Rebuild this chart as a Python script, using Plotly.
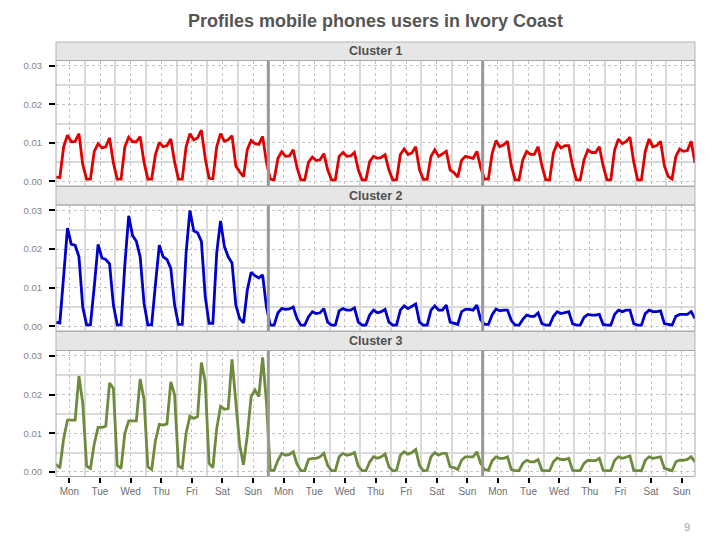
import plotly.graph_objects as go

# ---------------- data (8 samples per day, 3-hour steps) ----------------
days = ["Mon", "Tue", "Wed", "Thu", "Fri", "Sat", "Sun"]
samples_per_day = 8
n_weeks = 3

c1_w1 = [0.0011, 0.0010, 0.0090, 0.0120, 0.0103, 0.0104, 0.0124, 0.0043,
         0.0006, 0.0006, 0.0078, 0.0098, 0.0087, 0.0090, 0.0113, 0.0048,
         0.0006, 0.0006, 0.0090, 0.0115, 0.0103, 0.0103, 0.0116, 0.0050,
         0.0006, 0.0006, 0.0070, 0.0101, 0.0090, 0.0093, 0.0110, 0.0050,
         0.0006, 0.0006, 0.0090, 0.0124, 0.0108, 0.0113, 0.0133, 0.0060,
         0.0008, 0.0007, 0.0090, 0.0124, 0.0104, 0.0108, 0.0119, 0.0040,
         0.0025, 0.0012, 0.0083, 0.0106, 0.0098, 0.0096, 0.0117, 0.0050]
c1_w2 = [0.0006, 0.0004, 0.0060, 0.0077, 0.0065, 0.0066, 0.0082, 0.0035,
         0.0004, 0.0004, 0.0050, 0.0063, 0.0054, 0.0056, 0.0072, 0.0030,
         0.0004, 0.0004, 0.0065, 0.0075, 0.0065, 0.0066, 0.0075, 0.0030,
         0.0004, 0.0004, 0.0052, 0.0065, 0.0060, 0.0062, 0.0069, 0.0030,
         0.0004, 0.0004, 0.0070, 0.0084, 0.0070, 0.0074, 0.0090, 0.0030,
         0.0005, 0.0005, 0.0065, 0.0082, 0.0065, 0.0071, 0.0078, 0.0030,
         0.0023, 0.0011, 0.0055, 0.0065, 0.0063, 0.0060, 0.0078, 0.0035]
c1_w3 = [0.0006, 0.0006, 0.0073, 0.0106, 0.0090, 0.0095, 0.0104, 0.0040,
         0.0004, 0.0004, 0.0056, 0.0078, 0.0070, 0.0070, 0.0090, 0.0040,
         0.0004, 0.0004, 0.0074, 0.0099, 0.0087, 0.0093, 0.0093, 0.0040,
         0.0004, 0.0004, 0.0056, 0.0082, 0.0075, 0.0075, 0.0090, 0.0040,
         0.0004, 0.0004, 0.0082, 0.0110, 0.0098, 0.0104, 0.0115, 0.0050,
         0.0004, 0.0004, 0.0078, 0.0110, 0.0090, 0.0093, 0.0104, 0.0040,
         0.0013, 0.0006, 0.0065, 0.0084, 0.0078, 0.0080, 0.0104, 0.0048]

c2_w1 = [0.0010, 0.0009, 0.0130, 0.0254, 0.0212, 0.0210, 0.0180, 0.0049,
         0.0004, 0.0004, 0.0103, 0.0212, 0.0177, 0.0173, 0.0162, 0.0055,
         0.0004, 0.0004, 0.0160, 0.0286, 0.0235, 0.0220, 0.0180, 0.0060,
         0.0004, 0.0004, 0.0110, 0.0210, 0.0180, 0.0173, 0.0150, 0.0055,
         0.0005, 0.0005, 0.0190, 0.0300, 0.0247, 0.0242, 0.0220, 0.0077,
         0.0008, 0.0008, 0.0190, 0.0273, 0.0207, 0.0180, 0.0164, 0.0055,
         0.0020, 0.0009, 0.0094, 0.0140, 0.0131, 0.0125, 0.0133, 0.0050]
c2_w2 = [0.0003, 0.0003, 0.0035, 0.0046, 0.0044, 0.0045, 0.0050, 0.0020,
         0.0003, 0.0003, 0.0025, 0.0038, 0.0033, 0.0035, 0.0046, 0.0011,
         0.0003, 0.0003, 0.0040, 0.0046, 0.0042, 0.0042, 0.0048, 0.0011,
         0.0003, 0.0003, 0.0030, 0.0042, 0.0035, 0.0038, 0.0044, 0.0011,
         0.0003, 0.0003, 0.0042, 0.0053, 0.0046, 0.0051, 0.0058, 0.0011,
         0.0003, 0.0003, 0.0042, 0.0053, 0.0042, 0.0042, 0.0055, 0.0011,
         0.0007, 0.0005, 0.0038, 0.0044, 0.0044, 0.0042, 0.0055, 0.0017]
c2_w3 = [0.0005, 0.0005, 0.0030, 0.0045, 0.0040, 0.0042, 0.0042, 0.0015,
         0.0003, 0.0003, 0.0018, 0.0029, 0.0026, 0.0026, 0.0035, 0.0007,
         0.0003, 0.0003, 0.0026, 0.0038, 0.0033, 0.0035, 0.0038, 0.0007,
         0.0003, 0.0003, 0.0023, 0.0031, 0.0029, 0.0029, 0.0031, 0.0005,
         0.0003, 0.0003, 0.0031, 0.0042, 0.0038, 0.0042, 0.0042, 0.0007,
         0.0003, 0.0003, 0.0033, 0.0042, 0.0038, 0.0038, 0.0040, 0.0007,
         0.0005, 0.0003, 0.0026, 0.0031, 0.0031, 0.0031, 0.0038, 0.0020]

c3_w1 = [0.0020, 0.0010, 0.0086, 0.0134, 0.0134, 0.0134, 0.0248, 0.0177,
         0.0015, 0.0009, 0.0073, 0.0115, 0.0115, 0.0118, 0.0230, 0.0216,
         0.0017, 0.0009, 0.0100, 0.0132, 0.0132, 0.0132, 0.0240, 0.0188,
         0.0013, 0.0006, 0.0082, 0.0123, 0.0121, 0.0124, 0.0233, 0.0199,
         0.0015, 0.0010, 0.0100, 0.0144, 0.0138, 0.0143, 0.0283, 0.0233,
         0.0022, 0.0011, 0.0112, 0.0169, 0.0162, 0.0164, 0.0291, 0.0190,
         0.0070, 0.0018, 0.0095, 0.0195, 0.0212, 0.0195, 0.0296, 0.0180]
c3_w2 = [0.0004, 0.0004, 0.0030, 0.0048, 0.0043, 0.0045, 0.0052, 0.0020,
         0.0003, 0.0003, 0.0032, 0.0035, 0.0035, 0.0039, 0.0048, 0.0017,
         0.0003, 0.0003, 0.0039, 0.0048, 0.0043, 0.0045, 0.0050, 0.0015,
         0.0003, 0.0003, 0.0026, 0.0039, 0.0035, 0.0039, 0.0046, 0.0013,
         0.0003, 0.0004, 0.0043, 0.0052, 0.0046, 0.0050, 0.0058, 0.0017,
         0.0003, 0.0004, 0.0039, 0.0050, 0.0043, 0.0048, 0.0048, 0.0013,
         0.0011, 0.0006, 0.0030, 0.0039, 0.0039, 0.0039, 0.0052, 0.0022]
c3_w3 = [0.0006, 0.0004, 0.0029, 0.0039, 0.0035, 0.0035, 0.0039, 0.0006,
         0.0003, 0.0003, 0.0022, 0.0030, 0.0026, 0.0026, 0.0032, 0.0004,
         0.0003, 0.0003, 0.0026, 0.0036, 0.0032, 0.0032, 0.0035, 0.0004,
         0.0003, 0.0003, 0.0022, 0.0030, 0.0029, 0.0029, 0.0035, 0.0004,
         0.0003, 0.0003, 0.0030, 0.0039, 0.0035, 0.0039, 0.0041, 0.0004,
         0.0003, 0.0003, 0.0030, 0.0039, 0.0035, 0.0037, 0.0039, 0.0009,
         0.0006, 0.0003, 0.0026, 0.0030, 0.0030, 0.0032, 0.0039, 0.0026]

cluster_names = ["Cluster 1", "Cluster 2", "Cluster 3"]
cluster_colors = ["#E00000", "#0000CD", "#6E8B3D"]
cluster_series = [c1_w1 + c1_w2 + c1_w3,
                  c2_w1 + c2_w2 + c2_w3,
                  c3_w1 + c3_w2 + c3_w3]
y_ticks = [0.00, 0.01, 0.02, 0.03]
y_tick_labels = ["0.00", "0.01", "0.02", "0.03"]

# ---------------- derived axis positions ----------------
n_pts = samples_per_day * len(days) * n_weeks
x_vals = list(range(n_pts))
day_centers = [d * samples_per_day + (samples_per_day - 1) / 2 for d in range(len(days) * n_weeks)]
day_labels = days * n_weeks
day_bounds = [d * samples_per_day - 0.5 for d in range(1, len(days) * n_weeks)]
week_bounds = [w * samples_per_day * len(days) - 0.5 for w in range(1, n_weeks)]

W, H = 720, 540
x_dom = [56 / W, 695 / W]
panels_px = [(60.5, 186.0), (205.0, 331.0), (350.5, 476.5)]
strips_px = [(42.0, 60.5), (186.5, 205.0), (331.5, 350.5)]

FONT = "Liberation Sans, Arial, sans-serif"

fig = go.Figure()
layout = dict(
    width=W, height=H,
    margin=dict(l=0, r=0, t=0, b=0),
    paper_bgcolor="white", plot_bgcolor="white",
    showlegend=False,
    font=dict(family=FONT),
    shapes=[], annotations=[],
)

for i, (name, color, ys) in enumerate(zip(cluster_names, cluster_colors, cluster_series)):
    k = "" if i == 0 else str(i + 1)
    fig.add_trace(go.Scatter(x=x_vals, y=ys, mode="lines", xaxis="x" + k, yaxis="y" + k,
                             line=dict(color=color, width=2.8), hoverinfo="skip"))
    top, bot = panels_px[i]
    y_dom = [1 - bot / H, 1 - top / H]
    last = i == 2
    layout["xaxis" + k] = dict(
        domain=x_dom, anchor="y" + k, range=[0, n_pts - 1],
        tickmode="array", tickvals=day_centers, ticktext=day_labels,
        showticklabels=last, ticks="outside" if last else "",
        ticklen=5, tickwidth=2, tickcolor="black",
        tickfont=dict(size=10, color="#6E6E6E"),
        showgrid=True, gridcolor="#C4C4C4", griddash="dot", gridwidth=1,
        minor=dict(tickmode="array", tickvals=day_bounds, showgrid=True,
                   gridcolor="#DADADA", gridwidth=2, griddash="solid", ticks=""),
        zeroline=False, showline=False, fixedrange=True,
        **({} if i == 0 else {"matches": "x"}),
    )
    layout["yaxis" + k] = dict(
        domain=y_dom, anchor="x" + k, range=[-0.0012, 0.0314],
        tickmode="array", tickvals=y_ticks, ticktext=y_tick_labels,
        ticks="outside", ticklen=6, tickwidth=2, tickcolor="black",
        ticklabelstandoff=5,
        tickfont=dict(size=9.5, color="#858585"),
        showgrid=True, gridcolor="#C4C4C4", griddash="dot", gridwidth=1,
        minor=dict(tickmode="linear", tick0=0.005, dtick=0.01, showgrid=True,
                   gridcolor="#DADADA", gridwidth=2, griddash="solid", ticks=""),
        zeroline=False, showline=False, fixedrange=True,
    )
    # week separators
    for wb in week_bounds:
        layout["shapes"].append(dict(type="line", xref="x" + k, yref="y" + k + " domain",
                                     x0=wb, x1=wb, y0=0, y1=1,
                                     line=dict(color="#999999", width=3), layer="above"))
    # panel border
    layout["shapes"].append(dict(type="rect", xref="paper", yref="paper",
                                 x0=x_dom[0], x1=x_dom[1], y0=y_dom[0], y1=y_dom[1],
                                 line=dict(color="#A8A8A8", width=1), layer="above"))
    # strip
    s_top, s_bot = strips_px[i]
    layout["shapes"].append(dict(type="rect", xref="paper", yref="paper",
                                 x0=x_dom[0], x1=x_dom[1], y0=1 - s_bot / H, y1=1 - s_top / H,
                                 fillcolor="#E6E6E6", line=dict(color="#B4B4B4", width=1),
                                 layer="below"))
    layout["annotations"].append(dict(text=name, xref="paper", yref="paper",
                                      x=(x_dom[0] + x_dom[1]) / 2, y=1 - (s_top + s_bot) / 2 / H,
                                      xanchor="center", yanchor="middle", showarrow=False,
                                      font=dict(size=12.5, color="#505050", weight="bold")))

layout["annotations"].append(dict(text="Profiles mobile phones users in Ivory Coast",
                                  xref="paper", yref="paper", x=(x_dom[0] + x_dom[1]) / 2,
                                  y=1 - 21 / H, xanchor="center", yanchor="middle",
                                  showarrow=False,
                                  font=dict(size=18, color="#555555", weight="bold")))
layout["annotations"].append(dict(text="9", xref="paper", yref="paper", x=687 / W, y=1 - 527 / H,
                                  xanchor="center", yanchor="middle", showarrow=False,
                                  font=dict(size=11, color="#8FA6C4")))

fig.update_layout(**layout)
fig.write_html("out.html")
